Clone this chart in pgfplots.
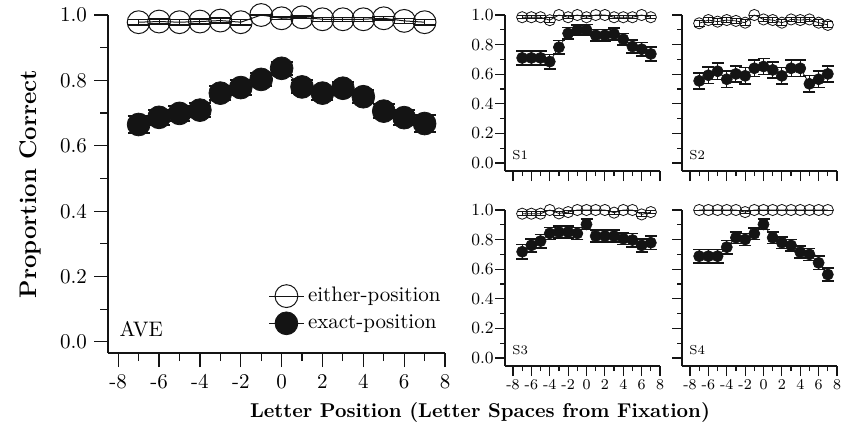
\documentclass[border=0pt]{standalone}
\usepackage{fontspec}
\usepackage{pgfplots}
\usepackage{pgfplotstable}
\pgfplotsset{compat=1.18}
\definecolor{ink}{HTML}{141414}

% AVE
\pgfplotstableread{
x y e
-7 0.665 0.025
-6 0.687 0.022
-5 0.699 0.022
-4 0.709 0.022
-3 0.761 0.022
-2 0.778 0.022
-1 0.803 0.020
0 0.837 0.020
1 0.780 0.020
2 0.761 0.020
3 0.776 0.020
4 0.750 0.020
5 0.706 0.022
6 0.686 0.022
7 0.668 0.025
}\aveexact
\pgfplotstableread{
x y e
-7 0.978 0.008
-6 0.980 0.008
-5 0.978 0.008
-4 0.980 0.008
-3 0.983 0.008
-2 0.978 0.008
-1 1.000 0.002
0 0.990 0.004
1 0.993 0.004
2 0.987 0.006
3 0.987 0.006
4 0.987 0.006
5 0.990 0.005
6 0.982 0.008
7 0.978 0.008
}\aveeither
% S1
\pgfplotstableread{
x y e
-7 0.710 0.048
-6 0.710 0.048
-5 0.710 0.048
-4 0.685 0.048
-3 0.782 0.045
-2 0.876 0.040
-1 0.899 0.035
0 0.900 0.035
1 0.863 0.040
2 0.863 0.040
3 0.872 0.040
4 0.836 0.040
5 0.787 0.045
6 0.769 0.045
7 0.737 0.048
}\sAexact
\pgfplotstableread{
x y e
-7 0.985 0.012
-6 0.985 0.012
-5 0.985 0.012
-4 0.965 0.015
-3 1.000 0.000
-2 0.985 0.012
-1 1.000 0.000
0 0.985 0.012
1 1.000 0.000
2 1.000 0.000
3 0.985 0.012
4 0.985 0.012
5 0.985 0.012
6 1.000 0.000
7 0.985 0.012
}\sAeither
% S2
\pgfplotstableread{
x y e
-7 0.555 0.055
-6 0.593 0.055
-5 0.620 0.055
-4 0.566 0.055
-3 0.602 0.055
-2 0.589 0.055
-1 0.640 0.055
0 0.652 0.055
1 0.629 0.055
2 0.589 0.055
3 0.640 0.055
4 0.640 0.055
5 0.535 0.055
6 0.566 0.055
7 0.602 0.055
}\sBexact
\pgfplotstableread{
x y e
-7 0.944 0.020
-6 0.966 0.015
-5 0.955 0.018
-4 0.966 0.015
-3 0.960 0.018
-2 0.948 0.020
-1 1.000 0.000
0 0.970 0.015
1 0.966 0.015
2 0.948 0.020
3 0.970 0.015
4 0.966 0.015
5 0.970 0.015
6 0.948 0.020
7 0.933 0.020
}\sBeither
% S3
\pgfplotstableread{
x y e
-7 0.718 0.048
-6 0.761 0.045
-5 0.790 0.045
-4 0.842 0.040
-3 0.851 0.040
-2 0.851 0.040
-1 0.842 0.040
0 0.903 0.035
1 0.824 0.040
2 0.824 0.040
3 0.824 0.040
4 0.806 0.040
5 0.797 0.045
6 0.761 0.045
7 0.779 0.045
}\sCexact
\pgfplotstableread{
x y e
-7 0.975 0.012
-6 0.975 0.012
-5 0.975 0.012
-4 1.000 0.000
-3 0.977 0.012
-2 0.986 0.010
-1 1.000 0.000
0 1.000 0.000
1 1.000 0.000
2 1.000 0.000
3 0.982 0.010
4 1.000 0.000
5 1.000 0.000
6 0.970 0.012
7 0.986 0.010
}\sCeither
% S4
\pgfplotstableread{
x y e
-7 0.688 0.045
-6 0.688 0.045
-5 0.688 0.045
-4 0.749 0.045
-3 0.813 0.040
-2 0.801 0.040
-1 0.840 0.040
0 0.903 0.035
1 0.813 0.040
2 0.779 0.040
3 0.761 0.040
4 0.716 0.040
5 0.700 0.040
6 0.643 0.045
7 0.564 0.045
}\sDexact
\pgfplotstableread{
x y e
-7 1.000 0.000
-6 1.000 0.000
-5 1.000 0.000
-4 1.000 0.000
-3 1.000 0.000
-2 0.986 0.010
-1 1.000 0.000
0 1.000 0.000
1 1.000 0.000
2 1.000 0.000
3 1.000 0.000
4 1.000 0.000
5 1.000 0.000
6 1.000 0.000
7 1.000 0.000
}\sDeither

\pgfplotsset{
  base/.style={
    scale only axis,
    axis x line*=bottom, axis y line*=left,
    tick align=outside,
    axis line style={line width=0.6pt, ink},
    every tick/.style={line width=0.6pt, ink},
    xtick={-8,-6,-4,-2,0,2,4,6,8},
    minor xtick={-7,-5,-3,-1,1,3,5,7},
    ytick={0,0.2,0.4,0.6,0.8,1},
    minor ytick={0.1,0.3,0.5,0.7,0.9},
    xmax=8, ymax=1,
    clip=false,
  },
  bigax/.style={
    base,
    width=168.5pt, height=169pt,
    xmin=-8.5, ymin=-0.034,
    major tick length=7pt, minor tick length=4pt,
    xticklabels={-8,-6,-4,-2,0,2,4,6,8},
    yticklabels={0.0,0.2,0.4,0.6,0.8,1.0},
    ticklabel style={font=\fontsize{10.5}{12}\selectfont},
  },
  smallax/.style={
    base,
    width=77.5pt, height=78pt,
    xmin=-8.87, ymin=-0.054,
    major tick length=5pt, minor tick length=2.5pt,
    xticklabels={-8,-6,-4,-2,0,2,4,6,8},
    yticklabels={0.0,0.2,0.4,0.6,0.8,1.0},
    xticklabel style={font=\fontsize{7.5}{8}\selectfont, inner sep=1.5pt},
    yticklabel style={font=\fontsize{8.5}{10}\selectfont, inner xsep=0.5pt},
  },
  exactB/.style={ink, line width=0.5pt, mark=*, mark size=5.7pt,
    mark options={fill=ink, draw=ink, line width=0.4pt},
    error bars/.cd, y dir=both, y explicit,
    error bar style={line width=0.7pt, ink},
    error mark options={rotate=90, mark size=5.5pt, line width=1pt, ink}},
  eitherB/.style={ink, line width=0.5pt, mark=o, mark size=5.7pt,
    mark options={draw=ink, line width=0.5pt},
    error bars/.cd, y dir=both, y explicit,
    error bar style={line width=0.5pt, ink},
    error mark options={rotate=90, mark size=5.5pt, line width=0.7pt, ink}},
  exactS/.style={ink, line width=0.4pt, mark=*, mark size=2.8pt,
    mark options={fill=ink, draw=ink, line width=0.3pt},
    error bars/.cd, y dir=both, y explicit,
    error bar style={line width=0.5pt, ink},
    error mark options={rotate=90, mark size=3pt, line width=0.8pt, ink}},
  eitherS/.style={ink, line width=0.4pt, mark=o, mark size=2.8pt,
    mark options={draw=ink, line width=0.4pt},
    error bars/.cd, y dir=both, y explicit,
    error bar style={line width=0.4pt, ink},
    error mark options={rotate=90, mark size=2.8pt, line width=0.5pt, ink}},
}

\begin{document}
\begin{tikzpicture}
\path[use as bounding box] (0,0) rectangle (420.5pt,215pt);

% main AVE panel
\begin{axis}[bigax, at={(54pt,38.5pt)}, anchor=south west,
  legend style={at={(axis description cs:1.0,0.05)}, anchor=south east,
    draw=none, fill=none, inner sep=0pt, row sep=1pt,
    font=\fontsize{10.5}{12}\selectfont},
  legend cell align=left]
\addplot[eitherB] table[x=x, y=y, y error=e] {\aveeither};
\addlegendentry{either-position}
\addplot[exactB] table[x=x, y=y, y error=e] {\aveexact};
\addlegendentry{exact-position}
\node[anchor=south west, font=\fontsize{10.5}{12}\selectfont, inner sep=0pt]
  at (axis description cs:0.033,0.047) {AVE};
\end{axis}

% S1
\begin{axis}[smallax, at={(252.5pt,129.5pt)}, anchor=south west, xticklabels={}]
\addplot[eitherS] table[x=x, y=y, y error=e] {\sAeither};
\addplot[exactS] table[x=x, y=y, y error=e] {\sAexact};
\node[anchor=south west, font=\fontsize{6.5}{8}\selectfont, inner sep=0pt]
  at (axis description cs:0.045,0.07) {S1};
\end{axis}

% S2
\begin{axis}[smallax, at={(341pt,129.5pt)}, anchor=south west, xticklabels={}, yticklabels={}]
\addplot[eitherS] table[x=x, y=y, y error=e] {\sBeither};
\addplot[exactS] table[x=x, y=y, y error=e] {\sBexact};
\node[anchor=south west, font=\fontsize{6.5}{8}\selectfont, inner sep=0pt]
  at (axis description cs:0.045,0.07) {S2};
\end{axis}

% S3
\begin{axis}[smallax, at={(252.5pt,32pt)}, anchor=south west]
\addplot[eitherS] table[x=x, y=y, y error=e] {\sCeither};
\addplot[exactS] table[x=x, y=y, y error=e] {\sCexact};
\node[anchor=south west, font=\fontsize{6.5}{8}\selectfont, inner sep=0pt]
  at (axis description cs:0.045,0.07) {S3};
\end{axis}

% S4
\begin{axis}[smallax, at={(341pt,32pt)}, anchor=south west, yticklabels={}]
\addplot[eitherS] table[x=x, y=y, y error=e] {\sDeither};
\addplot[exactS] table[x=x, y=y, y error=e] {\sDexact};
\node[anchor=south west, font=\fontsize{6.5}{8}\selectfont, inner sep=0pt]
  at (axis description cs:0.045,0.07) {S4};
\end{axis}

\node[rotate=90, font=\bfseries\fontsize{12}{14}\selectfont] at (15pt,123pt) {Proportion Correct};
\node[font=\bfseries\fontsize{10}{12}\selectfont] at (240pt,9pt) {Letter Position (Letter Spaces from Fixation)};
\end{tikzpicture}
\end{document}
